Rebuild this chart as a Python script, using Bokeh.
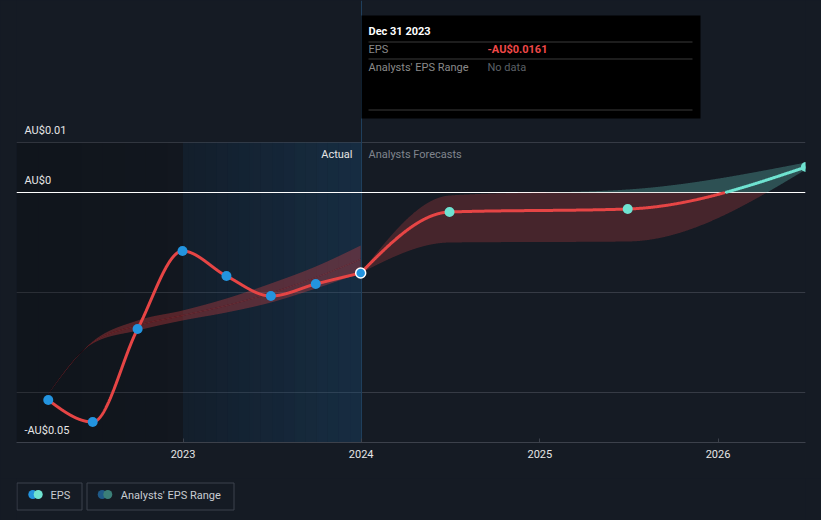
import numpy as np
from bokeh.plotting import figure
from bokeh.models import Range1d, FixedTicker, DatetimeTickFormatter, Grid
from bokeh.layouts import column
from bokeh.core.properties import value
from bokeh.embed import file_html
from bokeh.resources import INLINE

# ---------------- data ----------------
ACTUAL_DATES = ["2022-03-31", "2022-06-30", "2022-09-30", "2022-12-31",
                "2023-03-31", "2023-06-30", "2023-09-30", "2023-12-31"]
ACTUAL_EPS = [-0.0415, -0.0459, -0.0273, -0.0117, -0.0167, -0.0207, -0.0183, -0.0161]
PAST_RANGE_LOW = [-0.0403, -0.0302, -0.0276, -0.0256, -0.0240, -0.0220, -0.0192, -0.0161]
PAST_RANGE_HIGH = [-0.0403, -0.0298, -0.0256, -0.0236, -0.0212, -0.0182, -0.0148, -0.0106]

FORECAST_DATES = ["2024-06-30", "2025-06-30", "2026-06-30"]
FORECAST_EPS = [-0.0039, -0.0033, 0.0051]
FORECAST_LOW = [-0.0100, -0.0098, 0.0046]
FORECAST_HIGH = [-0.0006, 0.0006, 0.0060]

YEAR_TICKS = ["2023-01-01", "2024-01-01", "2025-01-01", "2026-01-01"]
Y_LABEL_TICKS = [0.01, 0.0, -0.05]
Y_LABELS = ["AU$0.01", "AU$0", "-AU$0.05"]
GRID_TICKS = [0.01, 0.0, -0.02, -0.04]

TOOLTIP_DATE = "Dec 31 2023"

# ---------------- style ----------------
BG = "#151b24"
RED = "#e64545"
BLUE = "#2394df"
TEAL = "#6fe3d1"
GRID_C = "#363b45"
FONT = value("Roboto")


def ms(dates):
    return np.array(dates, dtype="datetime64[ms]").astype("int64").astype(float)


def monotone(xs, ys, n=300):
    xs = np.asarray(xs, float)
    ys = np.asarray(ys, float)
    h = np.diff(xs)
    s = np.diff(ys) / h
    m = len(xs)
    t = np.zeros(m)
    for i in range(1, m - 1):
        h0, h1 = h[i - 1], h[i]
        s0, s1 = s[i - 1], s[i]
        p_ = (s0 * h1 + s1 * h0) / (h0 + h1)
        t[i] = (np.sign(s0) + np.sign(s1)) * min(abs(s0), abs(s1), 0.5 * abs(p_))
    if m > 2:
        t[0] = (3 * s[0] - t[1]) / 2
        t[-1] = (3 * s[-1] - t[-2]) / 2
    else:
        t[0] = t[-1] = s[0]
    ox, oy = [], []
    for i in range(m - 1):
        u = np.linspace(0, 1, n)
        hh = xs[i + 1] - xs[i]
        h00 = 2 * u**3 - 3 * u**2 + 1
        h10 = u**3 - 2 * u**2 + u
        h01 = -2 * u**3 + 3 * u**2
        h11 = u**3 - u**2
        y = h00 * ys[i] + h10 * hh * t[i] + h01 * ys[i + 1] + h11 * hh * t[i + 1]
        x = xs[i] + u * hh
        if i > 0:
            x, y = x[1:], y[1:]
        ox.append(x)
        oy.append(y)
    return np.concatenate(ox), np.concatenate(oy)


# pixel helpers (layout of overlay elements only)
T2023 = ms(["2023-01-01"])[0]
MS_PER_PX = 365.25 * 86400000 / 178.3


def px_x(px):
    return T2023 + (px - 182.5) * MS_PER_PX


def px_y(py):
    return (192 - py) / 5000.0


ax = ms(ACTUAL_DATES)
fx = np.concatenate([ax[-1:], ms(FORECAST_DATES)])
fy = np.concatenate([[ACTUAL_EPS[-1]], FORECAST_EPS])
flo = np.concatenate([[ACTUAL_EPS[-1]], FORECAST_LOW])
fhi = np.concatenate([[ACTUAL_EPS[-1]], FORECAST_HIGH])
T2024 = ms(["2024-01-01"])[0]

x_start, x_end = px_x(16), px_x(805)
y_start, y_end = px_y(442), px_y(0)

p = figure(width=821, height=478, x_axis_type="datetime",
           x_range=Range1d(x_start, x_end), y_range=Range1d(y_start, y_end),
           toolbar_location=None, output_backend="svg", y_axis_location=None,
           background_fill_color=BG, border_fill_color=BG, outline_line_color=None,
           min_border_left=16, min_border_right=16, min_border_top=0, min_border_bottom=36,
           styles={"background-color": BG})
p.xgrid.visible = False
p.ygrid.visible = False
p.add_layout(Grid(dimension=1, ticker=FixedTicker(ticks=GRID_TICKS),
                  grid_line_color=GRID_C, grid_line_width=1))

# shaded past region (gradient approximated by strips)
N = 16
edges = np.linspace(x_start, T2024, N + 1)
p.quad(left=edges[:-1], right=edges[1:], top=[0.01] * N, bottom=[y_start] * N,
       fill_color="#000000", fill_alpha=list(np.linspace(0.22, 0.04, N)), line_color=None)
edges2 = np.linspace(T2023, T2024, N + 1)
p.quad(left=edges2[:-1], right=edges2[1:], top=[0.01] * N, bottom=[y_start] * N,
       fill_color="#1e5a8c", fill_alpha=list(np.linspace(0.12, 0.30, N)), line_color=None)

p.vspan(x=[T2024], line_color="#1f3f5c", line_width=1)
p.hspan(y=[0.0], line_color="#ffffff", line_width=1)

# past analyst range
bx, blo = monotone(ax, PAST_RANGE_LOW)
_, bhi = monotone(ax, PAST_RANGE_HIGH)
p.varea(x=bx, y1=blo, y2=bhi, fill_color=RED, fill_alpha=0.32)
p.line(bx, (blo + bhi) / 2, line_color=RED, line_alpha=0.15, line_width=1)

# forecast range, split at zero
gx, glo = monotone(fx, flo)
_, ghi = monotone(fx, fhi)
p.varea(x=gx, y1=np.minimum(glo, 0), y2=np.minimum(ghi, 0), fill_color=RED, fill_alpha=0.24)
p.varea(x=gx, y1=np.maximum(glo, 0), y2=np.maximum(ghi, 0), fill_color=TEAL, fill_alpha=0.27)

# lines
lx, ly = monotone(ax, ACTUAL_EPS)
p.line(lx, ly, line_color=RED, line_width=3)
kx, ky = monotone(fx, fy)
p.line(kx, np.where(ky <= 0, ky, np.nan), line_color=RED, line_width=3)
p.line(kx, np.where(ky >= 0, ky, np.nan), line_color=TEAL, line_width=3)

# points
p.scatter(ax[:-1], ACTUAL_EPS[:-1], size=10, fill_color=BLUE, line_color=None)
p.scatter(ax[-1:], ACTUAL_EPS[-1:], size=10, fill_color=BLUE, line_color="#ffffff", line_width=1.5)
p.scatter(ms(FORECAST_DATES), FORECAST_EPS, size=10, fill_color=TEAL, line_color=None)

# y labels inside plot
p.text(x=[x_start] * len(Y_LABEL_TICKS), y=Y_LABEL_TICKS, text=Y_LABELS, x_offset=8, y_offset=-12,
       text_font=FONT, text_font_size="11px", text_color="#e6e6e6", text_baseline="middle")

p.text(x=[px_x(352)], y=[px_y(154)], text=["Actual"], text_align="right", text_baseline="middle",
       text_font=FONT, text_font_size="11px", text_color="#e6e6e6")
p.text(x=[px_x(368)], y=[px_y(154)], text=["Analysts Forecasts"], text_align="left", text_baseline="middle",
       text_font=FONT, text_font_size="11px", text_color="#80858e")

# tooltip
p.quad(left=[px_x(361)], right=[px_x(700)], top=[px_y(15)], bottom=[px_y(118)],
       fill_color="#000000", line_color=None)
p.segment(x0=[px_x(368)] * 3, x1=[px_x(692)] * 3, y0=[px_y(41.5), px_y(58.5), px_y(109.5)],
          y1=[px_y(41.5), px_y(58.5), px_y(109.5)], line_color="#3a3a3a", line_width=1)
p.text(x=[px_x(368)], y=[px_y(31)], text=[TOOLTIP_DATE], text_baseline="middle",
       text_font=FONT, text_font_size="11px", text_color="#ffffff", text_font_style="bold")
p.text(x=[px_x(368), px_x(368)], y=[px_y(49), px_y(66.5)], text=["EPS", "Analysts' EPS Range"],
       text_baseline="middle", text_font=FONT, text_font_size="11px", text_color="#8a8a8a")
p.text(x=[px_x(487)], y=[px_y(49)], text=[f"-AU${abs(ACTUAL_EPS[-1]):.4f}"], text_baseline="middle",
       text_font=FONT, text_font_size="11px", text_color="#f04848", text_font_style="bold")
p.text(x=[px_x(487)], y=[px_y(66.5)], text=["No data"], text_baseline="middle",
       text_font=FONT, text_font_size="11px", text_color="#5c6066")

# x axis
p.xaxis.ticker = FixedTicker(ticks=list(ms(YEAR_TICKS)))
p.xaxis.formatter = DatetimeTickFormatter(years="%Y", months="%Y", days="%Y", hours="%Y",
                                          minutes="%Y", seconds="%Y", milliseconds="%Y")
p.xaxis.axis_line_color = "#3c414b"
p.xaxis.major_tick_line_color = "#3c414b"
p.xaxis.major_tick_in = 4
p.xaxis.major_tick_out = 0
p.xaxis.minor_tick_line_color = None
p.xaxis.major_label_text_color = "#e6e6e6"
p.xaxis.major_label_text_font = "Roboto"
p.xaxis.major_label_text_font_size = "11px"
p.xaxis.major_label_standoff = 7

# legend strip: its frame is aligned with the main frame (page x 16..805), y offset 478
q = figure(width=821, height=42, x_range=Range1d(16, 805), y_range=Range1d(42, 0),
           toolbar_location=None, output_backend="svg", x_axis_location=None, y_axis_location=None,
           background_fill_color=BG, border_fill_color=BG, outline_line_color=None,
           min_border_left=16, min_border_right=16, min_border_top=0, min_border_bottom=0,
           styles={"background-color": BG})
q.grid.visible = False
q.quad(left=[16.5, 86.5], right=[81.5, 233.5], top=[4.5, 4.5], bottom=[31.5, 31.5],
       fill_color=None, line_color="#3d424c", line_width=1)
q.scatter([32.3, 101.7], [16, 16], size=9, fill_color=[BLUE, "#1f5a88"], line_color=None)
q.scatter([37.7, 107.3], [16, 16], size=9, fill_color=[TEAL, "#3b7f78"], line_color=None)
q.text(x=[50, 120.3], y=[16.5, 16.5], text=["EPS", "Analysts' EPS Range"], text_baseline="middle",
       text_font=FONT, text_font_size="11px", text_color="#c8ccd2")

layout = column(p, q, spacing=0, styles={"background-color": BG})
open("out.html", "w").write(file_html(layout, INLINE))
